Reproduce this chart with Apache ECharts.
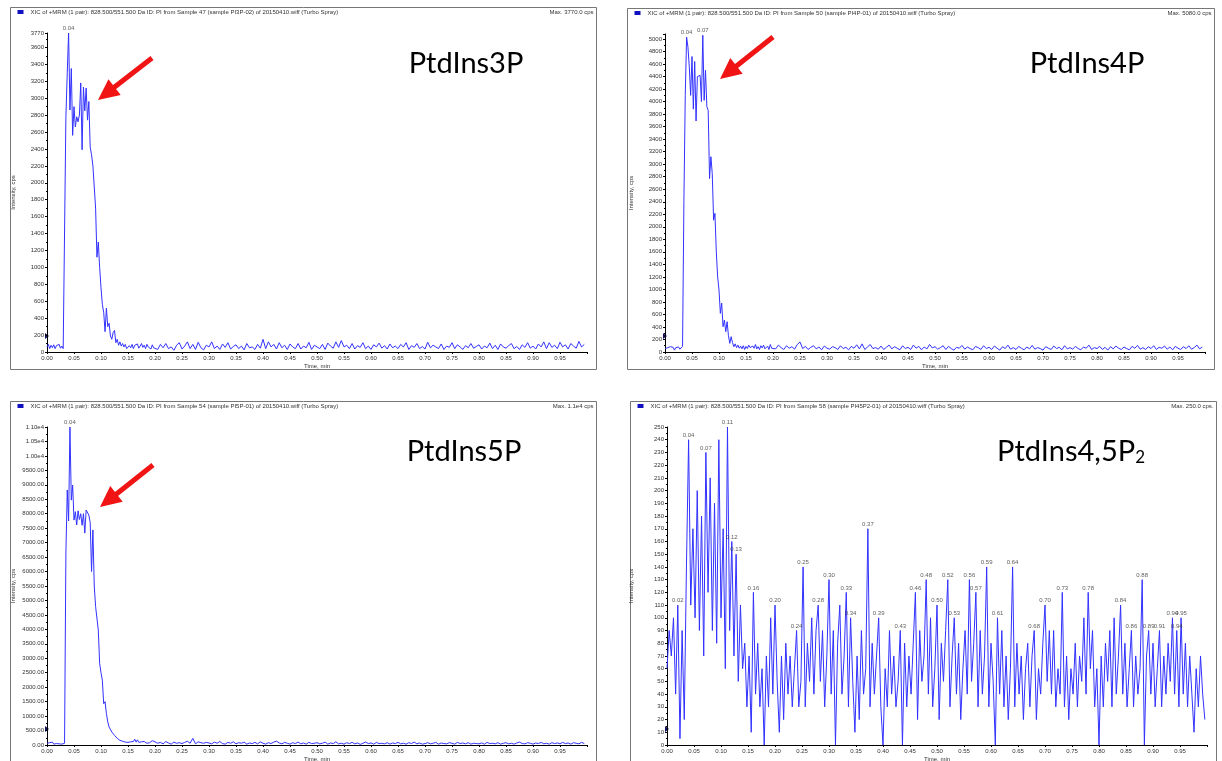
<!DOCTYPE html>
<html>
<head>
<meta charset="utf-8">
<title>PtdIns XIC</title>
<script src="https://cdn.jsdelivr.net/npm/echarts@6/dist/echarts.min.js"></script>
<style>
html, body { margin: 0; padding: 0; background: #fff; }
#main { width: 1222px; height: 761px; }
</style>
</head>
<body>
<div id="main"></div>
<script>
// sampling grid: panels 1-3 every 0.0025 min up to 0.2, then every 0.005 min; panel 4 every 0.004 min
var HEAD_STEP = 0.0025, TAIL_START = 0.2, TAIL_STEP = 0.005, P4_STEP = 0.004;

// PtdIns3P
var p1Head = [60,90,40,80,50,85,40,75,55,90,
  45,70,40,60,2780,3300,3770,2860,3350,2560,
  2900,2660,2780,2720,2800,3180,2390,3130,2850,3120,
  2740,2960,2420,2330,2200,1950,1700,1120,1300,1000,
  760,560,470,240,520,300,340,190,150,230,
  255,110,150,80,120,70,100,60,90,40,
  30,75,50,90,40,80,60,95,45,70,
  100,55,80,40,90,60,75,35,85,50];
var p1Tail = [70,30,90,50,100,40,60,20,80,110,
  35,70,120,40,90,30,115,50,25,80,
  60,120,40,70,30,95,55,110,35,65,
  85,40,70,25,100,50,60,30,90,45,
  150,40,120,60,90,35,110,50,80,30,
  95,60,40,100,35,70,50,115,30,80,
  60,40,90,30,105,70,45,120,55,135,
  60,80,40,100,35,75,55,110,40,70,
  30,85,60,105,45,75,35,95,50,70,
  40,90,60,110,30,75,55,100,40,65,
  35,115,50,80,60,40,95,30,70,55,
  110,40,85,60,30,75,50,100,45,65,
  85,35,70,50,105,40,80,30,95,60,
  45,75,100,40,65,30,85,55,110,45,
  70,35,95,60,120,40,110,55,80,40,
  115,60,85,35,100,70,45,125,60,90];

// PtdIns4P
var p2Head = [50,80,70,40,85,60,75,30,70,50,
  80,45,70,90,2400,4100,5030,4870,4550,4100,
  4720,3880,4640,3690,4400,4380,4420,4000,5060,4020,
  4500,3920,3860,2770,3120,2850,2105,2215,1600,1200,
  990,617,780,404,510,324,484,260,138,245,
  150,85,130,70,110,60,95,50,100,40,
  90,55,110,70,45,95,60,120,50,85,
  40,100,65,110,50,80,95,40,120,60];
var p2Tail = [90,50,110,70,40,100,60,85,45,120,
  160,55,90,40,75,100,50,80,35,95,
  60,45,85,70,40,100,55,75,35,90,
  60,115,50,130,40,80,120,55,70,45,
  95,40,75,110,50,85,60,35,100,55,
  75,40,110,60,90,35,80,50,120,65,
  85,45,70,100,40,90,55,30,75,60,
  105,45,80,55,35,90,70,40,100,55,
  75,40,95,60,30,85,55,110,45,70,
  40,90,60,35,80,50,105,45,70,55,
  30,85,60,40,95,55,75,35,100,50,
  70,45,90,55,35,80,60,110,40,70,
  55,90,40,75,30,85,50,95,60,40,
  80,55,35,90,60,105,45,70,40,85,
  55,100,40,75,60,95,45,80,35,90,
  60,40,85,55,100,45,70,110,50,80];

// PtdIns5P
var p3Head = [60,20,80,40,100,30,70,50,110,40,
  90,30,70,60,6640,8820,7750,11000,8470,8990,
  7780,8070,7610,8100,7800,8000,7600,8000,7330,8130,
  8100,7950,7700,6000,7440,5500,4790,4740,3970,2820,
  2500,2240,1430,1500,1090,800,620,560,450,400,
  335,300,230,250,160,180,130,150,100,120,
  90,140,110,160,120,200,100,180,90,130,
  110,70,120,90,60,110,80,130,150,90];
var p3Tail = [110,60,90,40,120,70,30,100,60,80,
  50,90,130,60,230,40,110,80,60,90,
  70,40,100,60,120,50,30,90,60,110,
  40,80,60,100,30,70,50,90,40,110,
  60,30,80,50,100,130,70,40,90,60,
  30,80,50,100,40,70,30,90,50,60,
  80,40,60,100,30,70,50,110,40,60,
  30,80,50,90,40,70,20,60,100,50,
  70,30,90,50,60,40,80,30,70,50,
  90,40,60,30,80,50,100,40,70,30,
  50,80,40,60,90,30,70,50,40,80,
  60,30,90,50,70,40,80,30,60,50,
  40,70,30,90,50,60,40,80,30,60,
  80,40,60,30,70,100,50,40,80,60,
  30,70,50,90,40,60,30,80,50,70,
  40,90,50,70,30,80,60,40,90,50];

// PtdIns4,5P2
var p4Values = [60,90,70,100,40,110,5,90,20,140,
  240,110,170,100,200,90,180,70,230,120,
  210,90,190,80,240,100,170,60,250,90,
  160,70,150,50,110,60,80,30,70,10,
  120,40,80,30,60,0,70,30,100,40,
  110,50,10,70,20,80,40,70,30,60,
  90,30,50,140,30,80,50,100,40,90,
  110,50,90,30,70,130,40,90,0,80,
  110,40,70,120,30,100,50,10,70,20,
  90,40,60,170,30,80,40,70,100,30,
  0,60,30,90,40,70,30,50,90,0,
  80,30,70,40,80,120,20,90,50,70,
  130,40,100,30,60,110,20,80,50,90,
  130,30,70,100,40,80,20,60,90,40,
  130,50,80,120,30,90,40,70,140,30,
  80,50,0,100,40,90,30,70,20,60,
  140,30,80,40,70,20,60,80,30,70,
  90,20,60,40,80,110,50,90,40,90,
  30,60,40,120,30,70,20,60,40,80,
  30,70,50,100,40,120,60,90,30,60,
  0,70,30,80,50,90,30,100,40,70,
  110,40,80,30,60,90,30,70,40,60,
  130,0,70,90,40,80,30,60,90,30,
  70,40,80,50,100,40,90,30,100,40,
  80,30,70,40,10,60,30,70,40,20];

// indices of the labelled peaks in each trace
var p1Peaks = [16];
var p2Peaks = [16, 28];
var p3Peaks = [17];
var p4Peaks = [5,10,18,28,30,32,40,50,60,63,70,75,83,85,93,98,108,115,120,125,130,133,
  140,143,148,153,160,170,175,183,195,210,215,220,223,228,234,236,238];

var titles = ['PtdIns3P', 'PtdIns4P', 'PtdIns5P', '{a|PtdIns4,5P}{b|2}'];
var samples = ['Sample 47 (sample PI3P-02)', 'Sample 50 (sample PI4P-01)',
  'Sample 54 (sample PI5P-01)', 'Sample 58 (sample PI45P2-01)'];
var maxTexts = ['Max. 3770.0 cps', 'Max. 5080.0 cps', 'Max. 1.1e4 cps', 'Max. 250.0 cps.'];
var yMax = [3770, 5080, 11000, 250];
var yStep = [200, 200, 500, 10];

function headTail(head, tail) {
    var out = [];
    head.forEach(function (v, i) { out.push([+(i * HEAD_STEP).toFixed(4), v]); });
    tail.forEach(function (v, j) { out.push([+(TAIL_START + j * TAIL_STEP).toFixed(4), v]); });
    return out;
}
var traces = [
    headTail(p1Head, p1Tail),
    headTail(p2Head, p2Tail),
    headTail(p3Head, p3Tail),
    p4Values.map(function (v, i) { return [+(i * P4_STEP).toFixed(3), v]; })
];
var peaks = [p1Peaks, p2Peaks, p3Peaks, p4Peaks];

// page layout (pixels)
var boxes = [[10.5, 7.5, 586, 362], [627.5, 8.5, 587, 361], [10.5, 401.5, 586, 362], [630.5, 401.5, 586, 362]];
var grids = [
    {left: 47, top: 33, width: 540, height: 319},
    {left: 665, top: 34, width: 540, height: 318},
    {left: 47, top: 427, width: 540, height: 318},
    {left: 667, top: 427, width: 540, height: 318}
];
var titlePos = [[466, 64], [1087, 64], [464, 452], [1071, 452]];
var arrows = [[[152, 58], [98, 100]], [[773, 37], [720, 79]], [[153, 465], [100, 507]], null];
var markers = [[46, 336], [664, 336], [46, 729], [666, 729]];
var yNameGap = [31, 31, 31, 33];

var RED = '#f01414', BLUE = '#3232ff', TXT = '#333';

function arrowShapes(tail, tip) {
    var dx = tip[0] - tail[0], dy = tip[1] - tail[1];
    var len = Math.sqrt(dx * dx + dy * dy);
    var ux = dx / len, uy = dy / len, nx = -uy, ny = ux;
    var hl = 21, hw = 10;
    var bx = tip[0] - ux * hl, by = tip[1] - uy * hl;
    return [
        {type: 'line', silent: true, shape: {x1: tail[0], y1: tail[1], x2: bx + ux * 2, y2: by + uy * 2},
            style: {stroke: RED, lineWidth: 5}},
        {type: 'polygon', silent: true,
            shape: {points: [tip, [bx + nx * hw, by + ny * hw], [bx - nx * hw, by - ny * hw]]},
            style: {fill: RED}}
    ];
}

var option = {
    animation: false,
    backgroundColor: '#fff',
    textStyle: {fontFamily: 'Liberation Sans, Arial, sans-serif'},
    grid: [], xAxis: [], yAxis: [], series: [], graphic: []
};

for (var k = 0; k < 4; k++) {
    var g = grids[k];
    option.grid.push({left: g.left, top: g.top, width: g.width, height: g.height,
        containLabel: false, outerBoundsMode: 'none'});

    option.xAxis.push({
        gridIndex: k, type: 'value', min: 0, max: 1, interval: 0.05,
        name: 'Time, min', nameLocation: 'middle', nameGap: 11,
        nameTextStyle: {fontSize: 6, color: TXT},
        axisLine: {show: true, lineStyle: {color: '#000', width: 1}},
        axisTick: {show: true, length: 2, lineStyle: {color: '#000'}},
        minorTick: {show: true, splitNumber: 5, length: 1, lineStyle: {color: '#000'}},
        axisLabel: {fontSize: 6, color: TXT, margin: 3, showMaxLabel: false,
            formatter: function (v) { return v.toFixed(2); }},
        splitLine: {show: false}
    });

    var yFmt = k === 2
        ? function (v) { return v >= 10000 ? (v / 10000).toFixed(2) + 'e4' : v.toFixed(2); }
        : function (v) { return String(v); };
    option.yAxis.push({
        gridIndex: k, type: 'value', min: 0, max: yMax[k], interval: yStep[k],
        name: 'Intensity, cps', nameLocation: 'middle', nameGap: yNameGap[k],
        nameTextStyle: {fontSize: 6, color: TXT},
        axisLine: {show: true, lineStyle: {color: '#000', width: 1}},
        axisTick: {show: true, length: 2, lineStyle: {color: '#000'}},
        minorTick: {show: true, splitNumber: 2, length: 1, lineStyle: {color: '#000'}},
        axisLabel: {fontSize: 6, color: TXT, margin: 3, formatter: yFmt,
            showMaxLabel: k === 1 ? false : null},
        splitLine: {show: false}
    });

    option.series.push({
        type: 'line', xAxisIndex: k, yAxisIndex: k, data: traces[k],
        symbol: 'none', showSymbol: false, silent: true,
        lineStyle: {color: BLUE, width: 1}
    });

    var tr = traces[k];
    option.series.push({
        type: 'scatter', xAxisIndex: k, yAxisIndex: k, silent: true, z: 5,
        data: peaks[k].map(function (idx) { return tr[idx]; }),
        symbolSize: 1, itemStyle: {color: 'rgba(0,0,0,0)'},
        label: {show: true, position: 'top', distance: 1, fontSize: 6, color: TXT,
            formatter: function (p) { return (Math.round(p.value[0] * 100) / 100).toFixed(2); }}
    });

    var b = boxes[k];
    option.graphic.push(
        {type: 'rect', silent: true, shape: {x: b[0], y: b[1], width: b[2], height: b[3]},
            style: {fill: 'none', stroke: '#777', lineWidth: 1}},
        {type: 'rect', silent: true, shape: {x: b[0] + 7, y: b[1] + 2.5, width: 6, height: 4},
            style: {fill: '#1010c0'}},
        {type: 'text', silent: true, style: {
            text: 'XIC of +MRM (1 pair): 828.500/551.500 Da ID: PI from ' + samples[k] +
                ' of 20150410.wiff (Turbo Spray)',
            x: b[0] + 20, y: b[1] + 4.5, fontSize: 6, fill: TXT, verticalAlign: 'middle'}},
        {type: 'text', silent: true, style: {
            text: maxTexts[k], x: b[0] + b[2] - 3, y: b[1] + 4.5, fontSize: 6, fill: TXT,
            align: 'right', verticalAlign: 'middle'}},
        {type: 'text', silent: true, style: {
            text: titles[k], x: titlePos[k][0], y: titlePos[k][1],
            fontSize: 29, fontFamily: 'Lato', fill: '#000', align: 'center', verticalAlign: 'middle',
            rich: {a: {fontSize: 29, fontFamily: 'Lato', fill: '#000'},
                b: {fontSize: 17, fontFamily: 'Lato', fill: '#000', verticalAlign: 'bottom'}}}},
        {type: 'polygon', silent: true, shape: {points: [
            [markers[k][0] - 1, markers[k][1] - 3], [markers[k][0] + 3, markers[k][1]],
            [markers[k][0] - 1, markers[k][1] + 3]]}, style: {fill: '#101060'}}
    );
    if (arrows[k]) {
        option.graphic = option.graphic.concat(arrowShapes(arrows[k][0], arrows[k][1]));
    }
}

var myChart = echarts.init(document.getElementById('main'));
myChart.setOption(option);
</script>
</body>
</html>
